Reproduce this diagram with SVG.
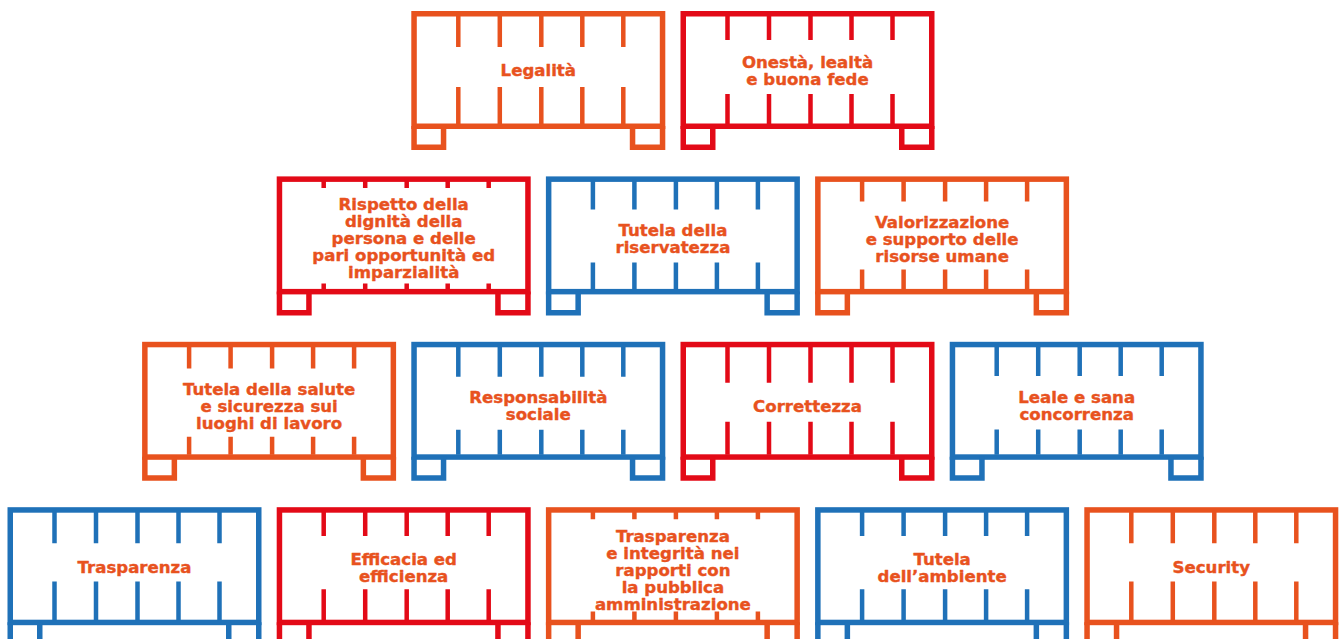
<svg xmlns="http://www.w3.org/2000/svg" xmlns:xlink="http://www.w3.org/1999/xlink" width="1339" height="639" viewBox="0 0 1339 639">
  <style>
    .orange { color: #E8521E; }
    .red { color: #E30A17; }
    .blue { color: #1F71B8; }
    .frame { fill: none; stroke: currentColor; stroke-width: 5.5; }
    .ticks { fill: none; stroke: currentColor; stroke-width: 4.5; }
    .label { fill: #E8521E; stroke: #E8521E; stroke-width: 0.4; stroke-linejoin: round; font-family: "DejaVu Sans", "Liberation Sans", sans-serif; font-weight: 700; font-size: 16.6px; text-anchor: middle; }
  </style>
  <defs>
    <!-- pallet outline: deck box with bottom board and two feet -->
    <g id="pallet" class="frame">
      <rect x="2.75" y="2.75" width="248.5" height="112.5"/>
      <path d="M2.75 115 V136.25 H32.25 V115 M221.25 115 V136.25 H251.25 V115"/>
    </g>
  </defs>
  <rect width="1339" height="639" fill="#ffffff"/>

  <!-- row 1 -->
  <g id="legalita" class="orange" transform="translate(411.3,11)">
    <use xlink:href="#pallet" href="#pallet"/>
    <path class="ticks" d="M47 3V36M88.5 3V36M130 3V36M171 3V36M212 3V36M47 76V113M88.5 76V113M130 76V113M171 76V113M212 76V113"/>
    <text class="label" x="127" y="65.4">Legalità</text>
  </g>
  <g id="onesta" class="red" transform="translate(680.5,11)">
    <use xlink:href="#pallet" href="#pallet"/>
    <path class="ticks" d="M47 3V29M88.5 3V29M130 3V29M171 3V29M212 3V29M47 83V113M88.5 83V113M130 83V113M171 83V113M212 83V113"/>
    <text class="label" x="127" y="57"><tspan x="127">Onestà, lealtà</tspan><tspan x="127" dy="17">e buona fede</tspan></text>
  </g>

  <!-- row 2 -->
  <g id="rispetto" class="red" transform="translate(276.7,176.4)">
    <use xlink:href="#pallet" href="#pallet"/>
    <path class="ticks" d="M47 3V11.5M88.5 3V11.5M130 3V11.5M171 3V11.5M212 3V11.5M47 107V113M88.5 107V113M130 107V113M171 107V113M212 107V113"/>
    <text class="label" y="33.5"><tspan x="127">Rispetto della</tspan><tspan x="127" dy="17">dignità della</tspan><tspan x="127" dy="17">persona e delle</tspan><tspan x="127" dy="17">pari opportunità ed</tspan><tspan x="127" dy="17">imparzialità</tspan></text>
  </g>
  <g id="riservatezza" class="blue" transform="translate(545.9,176.4)">
    <use xlink:href="#pallet" href="#pallet"/>
    <path class="ticks" d="M47 3V33M88.5 3V33M130 3V33M171 3V33M212 3V33M47 86V113M88.5 86V113M130 86V113M171 86V113M212 86V113"/>
    <text class="label" y="59.5"><tspan x="127">Tutela della</tspan><tspan x="127" dy="17">riservatezza</tspan></text>
  </g>
  <g id="valorizzazione" class="orange" transform="translate(815.1,176.4)">
    <use xlink:href="#pallet" href="#pallet"/>
    <path class="ticks" d="M47 3V25M88.5 3V25M130 3V25M171 3V25M212 3V25M47 93V113M88.5 93V113M130 93V113M171 93V113M212 93V113"/>
    <text class="label" y="51.5"><tspan x="127">Valorizzazione</tspan><tspan x="127" dy="17">e supporto delle</tspan><tspan x="127" dy="17">risorse umane</tspan></text>
  </g>

  <!-- row 3 -->
  <g id="salute" class="orange" transform="translate(142.1,341.8)">
    <use xlink:href="#pallet" href="#pallet"/>
    <path class="ticks" d="M47 3V26.7M88.5 3V26.7M130 3V26.7M171 3V26.7M212 3V26.7M47 95V113M88.5 95V113M130 95V113M171 95V113M212 95V113"/>
    <text class="label" y="53"><tspan x="127">Tutela della salute</tspan><tspan x="127" dy="17">e sicurezza sui</tspan><tspan x="127" dy="17">luoghi di lavoro</tspan></text>
  </g>
  <g id="responsabilita" class="blue" transform="translate(411.3,341.8)">
    <use xlink:href="#pallet" href="#pallet"/>
    <path class="ticks" d="M47 3V35M88.5 3V35M130 3V35M171 3V35M212 3V35M47 88V113M88.5 88V113M130 88V113M171 88V113M212 88V113"/>
    <text class="label" y="61.5"><tspan x="127">Responsabilità</tspan><tspan x="127" dy="17">sociale</tspan></text>
  </g>
  <g id="correttezza" class="red" transform="translate(680.5,341.8)">
    <use xlink:href="#pallet" href="#pallet"/>
    <path class="ticks" d="M47 3V41M88.5 3V41M130 3V41M171 3V41M212 3V41M47 80V113M88.5 80V113M130 80V113M171 80V113M212 80V113"/>
    <text class="label" x="127" y="70.5">Correttezza</text>
  </g>
  <g id="leale" class="blue" transform="translate(949.7,341.8)">
    <use xlink:href="#pallet" href="#pallet"/>
    <path class="ticks" d="M47 3V34.3M88.5 3V34.3M130 3V34.3M171 3V34.3M212 3V34.3M47 87.7V113M88.5 87.7V113M130 87.7V113M171 87.7V113M212 87.7V113"/>
    <text class="label" y="61.5"><tspan x="127">Leale e sana</tspan><tspan x="127" dy="17">concorrenza</tspan></text>
  </g>

  <!-- row 4 -->
  <g id="trasparenza" class="blue" transform="translate(7.5,507.2)">
    <use xlink:href="#pallet" href="#pallet"/>
    <path class="ticks" d="M47 3V36M88.5 3V36M130 3V36M171 3V36M212 3V36M47 74.3V113M88.5 74.3V113M130 74.3V113M171 74.3V113M212 74.3V113"/>
    <text class="label" x="127" y="65.5">Trasparenza</text>
  </g>
  <g id="efficacia" class="red" transform="translate(276.7,507.2)">
    <use xlink:href="#pallet" href="#pallet"/>
    <path class="ticks" d="M47 3V28.7M88.5 3V28.7M130 3V28.7M171 3V28.7M212 3V28.7M47 82V113M88.5 82V113M130 82V113M171 82V113M212 82V113"/>
    <text class="label" y="57.5"><tspan x="127">Efficacia ed</tspan><tspan x="127" dy="17">efficienza</tspan></text>
  </g>
  <g id="trasparenza-pa" class="orange" transform="translate(545.9,507.2)">
    <use xlink:href="#pallet" href="#pallet"/>
    <path class="ticks" d="M47 3V12M88.5 3V12M130 3V12M171 3V12M212 3V12M47 104.3V113M88.5 104.3V113M130 104.3V113M171 104.3V113M212 104.3V113"/>
    <text class="label" y="34.5"><tspan x="127">Trasparenza</tspan><tspan x="127" dy="17">e integrità nei</tspan><tspan x="127" dy="17">rapporti con</tspan><tspan x="127" dy="17">la pubblica</tspan><tspan x="127" dy="17">amministrazione</tspan></text>
  </g>
  <g id="ambiente" class="blue" transform="translate(815.1,507.2)">
    <use xlink:href="#pallet" href="#pallet"/>
    <path class="ticks" d="M47 3V28.7M88.5 3V28.7M130 3V28.7M171 3V28.7M212 3V28.7M47 82V113M88.5 82V113M130 82V113M171 82V113M212 82V113"/>
    <text class="label" y="57.5"><tspan x="127">Tutela</tspan><tspan x="127" dy="17">dell’ambiente</tspan></text>
  </g>
  <g id="security" class="orange" transform="translate(1084.3,507.2)">
    <use xlink:href="#pallet" href="#pallet"/>
    <path class="ticks" d="M47 3V36M88.5 3V36M130 3V36M171 3V36M212 3V36M47 74.3V113M88.5 74.3V113M130 74.3V113M171 74.3V113M212 74.3V113"/>
    <text class="label" x="127" y="65.5">Security</text>
  </g>
</svg>
